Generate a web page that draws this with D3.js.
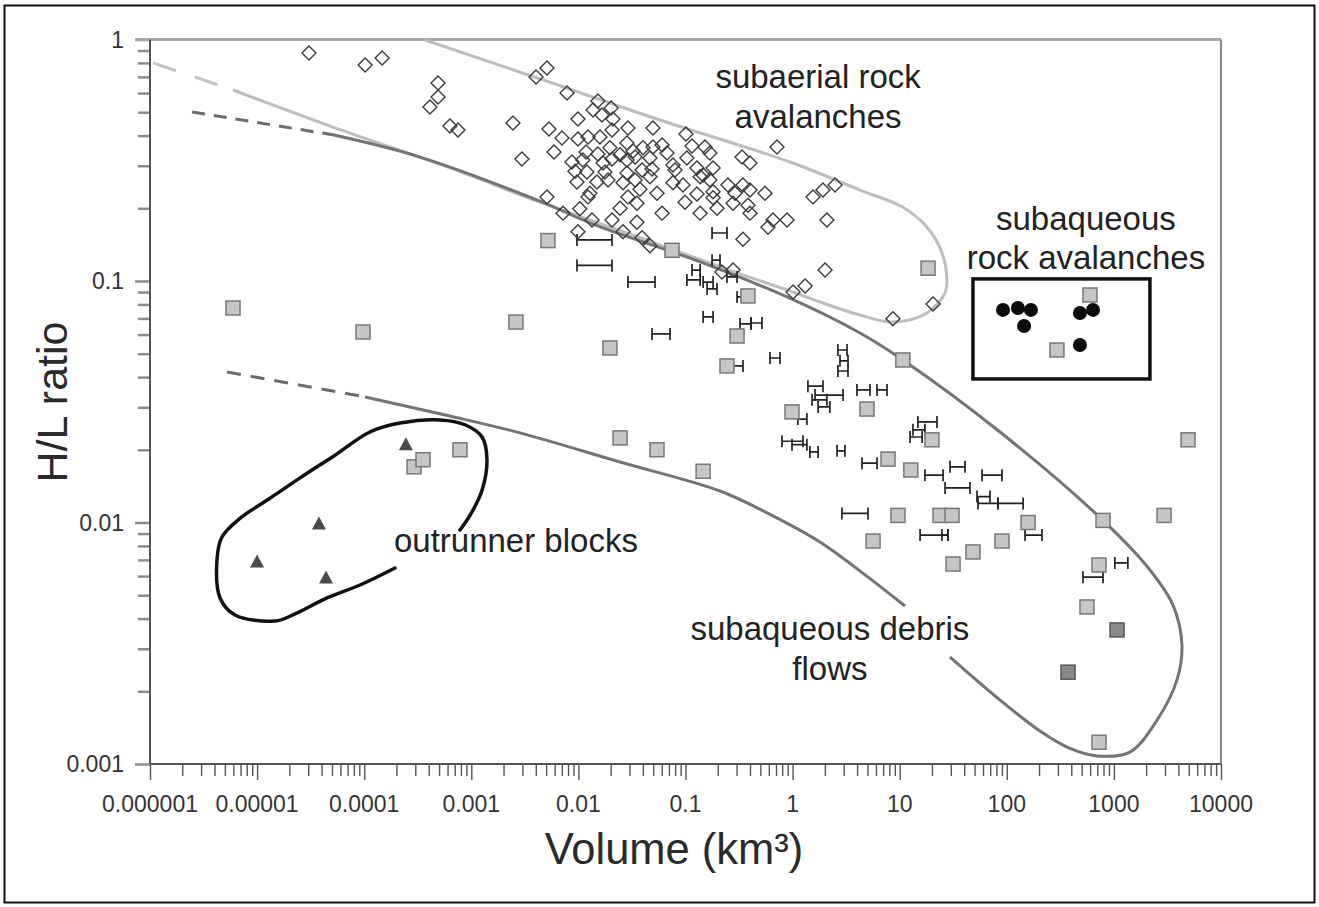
<!DOCTYPE html>
<html><head><meta charset="utf-8">
<script src="https://cdn.jsdelivr.net/npm/d3@7"></script>
<style>
html,body{margin:0;padding:0;background:#fff;}
svg{display:block;font-family:"Liberation Sans",Arial,Helvetica,sans-serif;}
</style></head><body>
<svg id="chart" width="1319" height="907"></svg>
<script>
// ---------- DATA ----------
const xTickValues = [1e-6,1e-5,1e-4,1e-3,1e-2,1e-1,1,10,100,1000,10000];
const xTickLabels = ["0.000001","0.00001","0.0001","0.001","0.01","0.1","1","10","100","1000","10000"];
const yTickValues = [0.001,0.01,0.1,1];
const yTickLabels = ["0.001","0.01","0.1","1"];

// subaerial rock avalanches (open diamonds)
const subaerialVolume = [3.05e-5,1.02e-4,1.47e-4,4.89e-4,4.89e-4,4.11e-4,6.32e-4,7.51e-4,2.45e-3,2.97e-3,
4.02e-3,5.09e-3,7.83e-3,1.52e-2,1.37e-2,2.02e-2,1.66e-2,2.10e-2,9.91e-3,5.31e-3,
2.06e-2,2.90e-2,4.97e-2,0.101,7.03e-3,9.91e-3,1.23e-2,1.59e-2,0.115,0.152,
1.97e-2,5.92e-3,1.18e-2,1.52e-2,2.45e-2,3.24e-2,4.01e-2,4.97e-2,6.72e-2,0.169,
0.715,0.337,0.400,8.71e-3,1.10e-2,1.70e-2,2.06e-2,2.84e-2,3.38e-2,4.66e-2,
7.64e-2,0.103,0.128,0.181,9.29e-3,1.20e-2,1.77e-2,2.84e-2,3.93e-2,4.87e-2,
7.98e-2,0.146,9.70e-3,1.89e-2,2.61e-2,3.38e-2,4.66e-2,7.64e-2,9.48e-2,0.137,
0.169,0.249,0.344,0.400,0.552,1.28e-2,1.23e-2,2.90e-2,3.76e-2,5.42e-2,
0.128,0.181,0.290,1.55,1.92,2.49,5.09e-3,1.03e-2,7.18e-3,2.45e-2,
3.52e-2,6.04e-2,9.89e-2,0.137,0.181,0.197,0.278,0.383,0.400,0.589,
0.656,0.887,2.09,9.91e-3,1.34e-2,2.06e-2,2.61e-2,3.52e-2,3.93e-2,4.66e-2,
0.344,2.01,1.31,1.01,0.278,0.219,20.5,8.65,2.84e-2,1.49e-2,6.04e-2];
const subaerialHL = [0.879,0.784,0.838,0.661,0.578,0.525,0.438,0.422,0.451,0.320,
0.700,0.762,0.600,0.556,0.511,0.520,0.487,0.469,0.469,0.426,
0.422,0.430,0.430,0.406,0.391,0.387,0.395,0.395,0.362,0.359,
0.356,0.342,0.342,0.336,0.333,0.345,0.356,0.359,0.339,0.339,
0.359,0.326,0.308,0.311,0.317,0.308,0.320,0.317,0.326,0.323,
0.302,0.323,0.294,0.294,0.285,0.283,0.283,0.280,0.288,0.291,
0.288,0.275,0.257,0.262,0.255,0.262,0.270,0.255,0.250,0.270,
0.262,0.250,0.250,0.238,0.231,0.231,0.223,0.223,0.240,0.231,
0.229,0.234,0.231,0.223,0.238,0.250,0.223,0.199,0.191,0.200,
0.210,0.191,0.212,0.191,0.221,0.200,0.210,0.206,0.191,0.167,
0.179,0.179,0.179,0.160,0.179,0.179,0.160,0.175,0.151,0.140,
0.149,0.111,0.0953,0.090,0.111,0.109,0.0803,0.0697,0.373,0.257,0.366];

// subaqueous debris flows (grey squares)
const debrisVolume = [5.96e-6,9.75e-5,2.92e-4,3.54e-4,7.84e-4,2.61e-3,5.20e-3,1.97e-2,2.45e-2,5.42e-2,
0.146,7.48e-2,0.383,0.303,0.244,0.987,4.95,10.7,18.4,598,
294,4920,20.0,7.78,12.7,9.64,23.8,30.8,158,791,
2940,5.64,48.3,90.2,31.5,726,561,726];
const debrisHL = [0.0773,0.0615,0.0170,0.0182,0.0200,0.0676,0.147,0.0528,0.0224,0.0200,
0.0163,0.134,0.0867,0.0592,0.0445,0.0287,0.0295,0.0471,0.113,0.0875,
0.0518,0.0220,0.0220,0.0183,0.0165,0.0107,0.0107,0.0107,0.0100,0.0102,
0.0107,0.00838,0.00755,0.00838,0.00673,0.00667,0.00447,0.00123];
// darker squares
const darkVolume = [1070,373];
const darkHL = [0.00359,0.00240];

// volume ranges (horizontal bars)
const rangeMin = [9.70e-3,9.70e-3,2.90e-2,0.177,0.177,0.115,0.103,0.146,0.159,0.244,
0.303,0.146,4.87e-2,0.323,0.409,0.278,0.615,2.65,2.77,2.65,
1.39,1.62,1.52,1.73,3.99,6.14,1.12,0.796,0.987,1.45,
2.60,14.8,13.3,12.5,4.45,17.2,29.5,26.5,58.7,52.7,
53.8,82.8,2.89,15.5,24.8,148,514,1020];
const rangeMax = [2.06e-2,2.06e-2,5.19e-2,0.244,0.210,0.137,0.137,0.181,0.197,0.303,
0.375,0.181,7.17e-2,0.409,0.518,0.344,0.763,3.22,3.29,3.29,
1.92,2.96,2.09,2.23,5.28,7.61,1.36,1.25,1.36,1.73,
3.08,22.3,17.2,16.2,6.14,25.4,40.7,45.3,90.2,69.7,
82.8,142,5.06,28.2,28.2,213,791,1350];
const rangeHL = [0.148,0.116,0.0990,0.158,0.122,0.111,0.101,0.0990,0.0927,0.104,
0.0859,0.0710,0.0604,0.0664,0.0670,0.0445,0.0480,0.0518,0.0467,0.0424,
0.0367,0.0337,0.0322,0.0301,0.0354,0.0354,0.0268,0.0217,0.0210,0.0196,
0.0198,0.0261,0.0242,0.0226,0.0176,0.0157,0.0170,0.0139,0.0157,0.0128,
0.0120,0.0120,0.0109,0.00887,0.00887,0.00887,0.00594,0.00680];

// subaqueous rock avalanches (black dots)
const rockVolume = [92.2,127,168,145,482,638,482];
const rockHL = [0.0759,0.0773,0.0759,0.0651,0.0737,0.0759,0.0543];

// outrunner blocks (triangles)
const outrunnerVolume = [2.45e-4,3.78e-5,1.0e-5,4.40e-5];
const outrunnerHL = [0.0210,0.00986,0.00686,0.00589];

// envelopes
const lightEnvVolume = [3.70e-4,4.67e-3,5.78e-2,0.946,4.26,10.7,18.0,24.8,27.6,26.5,18.0,8.65,4.26,1.80,1.01,0.323,3.76e-2,4.38e-3,6.32e-4,5.11e-5,5.96e-6];
const lightEnvHL = [0.995,0.680,0.464,0.311,0.238,0.202,0.167,0.131,0.101,0.0892,0.0737,0.0676,0.0723,0.0819,0.090,0.107,0.151,0.212,0.294,0.434,0.618];
const lightDashVolume = [1.07e-6,5.96e-6];
const lightDashHL = [0.800,0.618];

const darkUpperVolume = [5.11e-5,3.32e-4,4.38e-3,1.37e-2,0.137,0.887,4.26,10.7,86.4,791,2170,3560,4320,3880,2530,1410,695,389,204,86.4,29.5];
const darkUpperHL = [0.403,0.326,0.214,0.172,0.120,0.0859,0.0609,0.0471,0.0237,0.0102,0.00636,0.00455,0.00311,0.00223,0.00152,0.00112,0.00108,0.00116,0.00137,0.00184,0.00277];
const darkLowerVolume = [11.2,5.06,1.80,0.615,0.210,2.45e-2,2.85e-3,6.32e-4,1.02e-4];
const darkLowerHL = [0.00451,0.00594,0.00830,0.0108,0.0135,0.0178,0.0235,0.0276,0.0331];
const darkUpperDashVolume = [2.47e-6,5.11e-5];
const darkUpperDashHL = [0.501,0.403];
const darkLowerDashVolume = [5.24e-6,1.02e-4];
const darkLowerDashHL = [0.0420,0.0331];

const outrunnerEnvVolume = [7.84e-4,9.72e-4,1.26e-3,1.40e-3,1.26e-3,8.73e-4,5.10e-4,2.16e-4,1.13e-4,5.34e-5,2.52e-5,1.32e-5,6.92e-6,4.70e-6,4.22e-6,4.51e-6,6.22e-6,1.47e-5,2.26e-5,4.49e-5,9.14e-5,1.94e-4];
const outrunnerEnvHL = [0.00931,0.0107,0.0136,0.0182,0.0226,0.0254,0.0266,0.0258,0.0237,0.0190,0.0153,0.0126,0.0104,0.00871,0.00700,0.00487,0.00414,0.00391,0.00418,0.00487,0.00551,0.00648];

const boxVolume = [48.3,2170];
const boxHL = [0.0393,0.102];

const labelText = ["subaerial rock","avalanches","subaqueous","rock avalanches","outrunner blocks","subaqueous debris","flows"];
const labelVolume = [1.73,1.73,548,548,2.61e-3,2.23,2.23];
const labelHL = [0.630,0.430,0.163,0.112,0.00755,0.00326,0.00223];

// ---------- DRAW ----------
const svg = d3.select("#chart");
const x = d3.scaleLog().domain([1e-6,1e4]).range([150,1221]);
const y = d3.scaleLog().domain([0.001,1]).range([764,39.5]);

svg.append("rect").attr("x",4.5).attr("y",5.5).attr("width",1310).attr("height",897)
  .attr("fill","#fff").attr("stroke","#111").attr("stroke-width",2);

function minors(lo, hi){
  const out=[];
  for(let k=lo;k<hi;k++){ for(let m=1;m<=9;m++){ out.push(+(m*Math.pow(10,k)).toPrecision(3)); } }
  out.push(+Math.pow(10,hi).toPrecision(3));
  return out;
}
const xAll = minors(-6,4);
const yAll = minors(-3,0);
const isMajor = v => Math.abs(Math.log10(v) - Math.round(Math.log10(v))) < 1e-6;

// X axis
const xAxis = d3.axisBottom(x).tickValues(xAll).tickSize(12).tickFormat(()=>"");
const gx = svg.append("g").attr("transform","translate(0,764)").call(xAxis);
gx.select(".domain").remove();
gx.selectAll(".tick line").attr("stroke","#555").attr("stroke-width",1.4)
  .attr("y2", d => isMajor(d) ? 16 : 12);
gx.selectAll(".tick text").remove();
svg.append("g").selectAll("text").data(xTickValues).join("text")
  .attr("x", d=>x(d)).attr("y", 812).attr("text-anchor","middle")
  .attr("font-size",23).attr("fill","#333").text((d,i)=>xTickLabels[i]);

// Y axis
const yAxis = d3.axisLeft(y).tickValues(yAll).tickSize(12).tickFormat(()=>"");
const gy = svg.append("g").attr("transform","translate(150,0)").call(yAxis);
gy.select(".domain").remove();
gy.selectAll(".tick line").attr("stroke","#8c8c8c").attr("stroke-width",2.5)
  .attr("x2", d => isMajor(d) ? -15 : -12);
gy.selectAll(".tick text").remove();
svg.append("g").selectAll("text").data(yTickValues).join("text")
  .attr("x", 124).attr("y", d=>y(d)).attr("dy","0.36em").attr("text-anchor","end")
  .attr("font-size",23).attr("fill","#333").text((d,i)=>yTickLabels[i]);

// frame lines
svg.append("line").attr("x1",x(1e-6)-15).attr("x2",x(1e4)).attr("y1",y(1)).attr("y2",y(1))
  .attr("stroke","#a8a8a8").attr("stroke-width",3);
svg.append("line").attr("x1",x(1e4)).attr("x2",x(1e4)).attr("y1",y(1)).attr("y2",y(0.001))
  .attr("stroke","#888").attr("stroke-width",2);
svg.append("line").attr("x1",x(1e-6)).attr("x2",x(1e-6)).attr("y1",y(1)).attr("y2",y(0.001))
  .attr("stroke","#555").attr("stroke-width",2);
svg.append("line").attr("x1",x(1e-6)).attr("x2",x(1e4)).attr("y1",y(0.001)).attr("y2",y(0.001))
  .attr("stroke","#555").attr("stroke-width",2);

// axis titles
svg.append("text").attr("x", 674).attr("y", 864).attr("text-anchor","middle")
  .attr("font-size",43.5).attr("fill","#2a2a2a").text("Volume (km³)");
svg.append("text").attr("transform","translate(67,402) rotate(-90)").attr("text-anchor","middle")
  .attr("font-size",43).attr("fill","#2a2a2a").text("H/L ratio");

// envelopes
const smooth = d3.line().x(d=>x(d[0])).y(d=>y(d[1])).curve(d3.curveCatmullRom.alpha(0.5));
const straight = d3.line().x(d=>x(d[0])).y(d=>y(d[1]));
const pairs = (a,b) => d3.zip(a,b);

svg.append("path").attr("d", smooth(pairs(lightEnvVolume,lightEnvHL)))
  .attr("fill","none").attr("stroke","#bdbdbd").attr("stroke-width",3);
svg.append("path").attr("d", straight(pairs(lightDashVolume,lightDashHL)))
  .attr("fill","none").attr("stroke","#c4c4c4").attr("stroke-width",3).attr("stroke-dasharray","24,20");

svg.append("path").attr("d", smooth(pairs(darkUpperVolume,darkUpperHL)))
  .attr("fill","none").attr("stroke","#747474").attr("stroke-width",3);
svg.append("path").attr("d", smooth(pairs(darkLowerVolume,darkLowerHL)))
  .attr("fill","none").attr("stroke","#747474").attr("stroke-width",3);
svg.append("path").attr("d", straight(pairs(darkUpperDashVolume,darkUpperDashHL)))
  .attr("fill","none").attr("stroke","#6c6c6c").attr("stroke-width",3).attr("stroke-dasharray","13,9");
svg.append("path").attr("d", straight(pairs(darkLowerDashVolume,darkLowerDashHL)))
  .attr("fill","none").attr("stroke","#6c6c6c").attr("stroke-width",3).attr("stroke-dasharray","14,10");

svg.append("path").attr("d", smooth(pairs(outrunnerEnvVolume,outrunnerEnvHL)))
  .attr("fill","none").attr("stroke","#111").attr("stroke-width",3.5).attr("stroke-linecap","round");

svg.append("rect").attr("x", x(boxVolume[0])).attr("y", y(boxHL[1]))
  .attr("width", x(boxVolume[1])-x(boxVolume[0])).attr("height", y(boxHL[0])-y(boxHL[1]))
  .attr("fill","none").attr("stroke","#111").attr("stroke-width",3.5);

// volume range bars
const rg = svg.append("g").attr("stroke","#222").attr("stroke-width",1.7).attr("fill","none");
const ranges = rangeMin.map((v,i)=>({a:v,b:rangeMax[i],h:rangeHL[i]}));
rg.selectAll("path").data(ranges).join("path")
  .attr("d", d => {
    const x1=x(d.a), x2=x(d.b), yy=y(d.h);
    return `M${x1},${yy}H${x2}M${x1},${yy-6}V${yy+6}M${x2},${yy-6}V${yy+6}`;
  });

// diamonds
const diamond = "M0,-7L7,0L0,7L-7,0Z";
svg.append("g").selectAll("path").data(d3.zip(subaerialVolume,subaerialHL)).join("path")
  .attr("d", diamond).attr("transform", d=>`translate(${x(d[0])},${y(d[1])})`)
  .attr("fill","none").attr("stroke","#3c3c3c").attr("stroke-width",1.4);

// squares
svg.append("g").selectAll("rect").data(d3.zip(debrisVolume,debrisHL)).join("rect")
  .attr("x", d=>x(d[0])-7).attr("y", d=>y(d[1])-7).attr("width",14).attr("height",14)
  .attr("fill","#c6c6c6").attr("stroke","#777").attr("stroke-width",1.5);
svg.append("g").selectAll("rect").data(d3.zip(darkVolume,darkHL)).join("rect")
  .attr("x", d=>x(d[0])-7).attr("y", d=>y(d[1])-7).attr("width",14).attr("height",14)
  .attr("fill","#8a8a8a").attr("stroke","#555").attr("stroke-width",1.5);

// black dots
svg.append("g").selectAll("circle").data(d3.zip(rockVolume,rockHL)).join("circle")
  .attr("cx", d=>x(d[0])).attr("cy", d=>y(d[1])).attr("r",7).attr("fill","#0a0a0a");

// triangles
svg.append("g").selectAll("path").data(d3.zip(outrunnerVolume,outrunnerHL)).join("path")
  .attr("d","M0,-7.5L7,5.5L-7,5.5Z").attr("transform", d=>`translate(${x(d[0])},${y(d[1])})`)
  .attr("fill","#4a4a4a");

// labels
svg.append("g").selectAll("text").data(labelText).join("text")
  .attr("x",(d,i)=>x(labelVolume[i])).attr("y",(d,i)=>y(labelHL[i]))
  .attr("text-anchor","middle").attr("font-size",33).attr("fill","#222").text(d=>d);
</script>
</body></html>
